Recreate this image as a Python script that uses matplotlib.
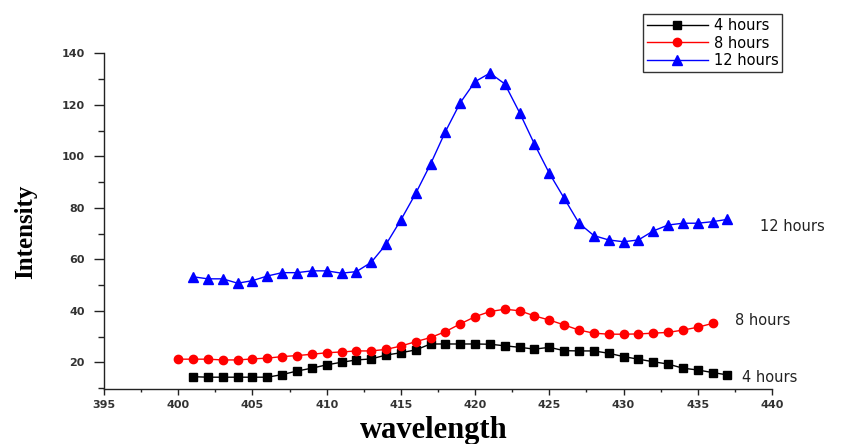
import matplotlib
matplotlib.use('Agg')
import matplotlib.pyplot as plt
from matplotlib.ticker import MultipleLocator

# wavelength (nm) for each series
wl_4h = list(range(401, 438))
wl_8h = list(range(400, 437))
wl_12h = list(range(401, 438))

int_4h = [14.4, 14.2, 14.2, 14.2, 14.2, 14.2, 15.2, 16.6, 17.7, 19.0,
          20.0, 20.9, 21.3, 22.8, 23.7, 24.8, 27.1, 27.1, 27.1, 27.1,
          27.0, 26.4, 25.8, 25.1, 25.8, 24.5, 24.4, 24.4, 23.5, 22.2,
          21.2, 20.2, 19.3, 17.7, 17.0, 16.0, 15.1]
int_8h = [21.2, 21.2, 21.2, 20.9, 20.9, 21.3, 21.6, 22.2, 22.6, 23.1,
          23.7, 24.0, 24.4, 24.4, 25.0, 26.3, 28.0, 29.6, 31.9, 34.9,
          37.7, 39.7, 40.6, 40.0, 38.0, 36.4, 34.5, 32.5, 31.3, 30.9,
          30.9, 31.0, 31.3, 31.6, 32.5, 33.6, 35.1]
int_12h = [53.2, 52.4, 52.4, 50.7, 51.7, 53.5, 54.8, 54.8, 55.5, 55.5,
           54.6, 55.2, 58.8, 65.8, 75.3, 85.6, 97.0, 109.6, 120.8, 129.0,
           132.3, 128.1, 116.9, 104.7, 93.4, 83.7, 74.0, 69.2, 67.5, 66.8,
           67.5, 71.0, 73.3, 74.0, 74.0, 74.6, 75.5]

labels = ['4 hours', '8 hours', '12 hours']
x_ticks = [395, 400, 405, 410, 415, 420, 425, 430, 435, 440]
y_ticks = [20, 40, 60, 80, 100, 120, 140]

fig = plt.figure(figsize=(8.59, 4.44), dpi=100)
ax = fig.add_axes([0.1211, 0.1232, 0.7776, 0.7568])

ax.plot(wl_4h, int_4h, '-s', color='black', lw=1, ms=5.6, label=labels[0])
ax.plot(wl_8h, int_8h, '-o', color='#ff0000', lw=1, ms=6.0, label=labels[1])
ax.plot(wl_12h, int_12h, '-^', color='#0000ff', lw=1, ms=7.3, label=labels[2])

ax.set_xlim(395, 440)
ax.set_ylim(9.5, 140)
ax.set_xticks(x_ticks)
ax.set_yticks(y_ticks)
ax.xaxis.set_minor_locator(MultipleLocator(2.5))
ax.yaxis.set_minor_locator(MultipleLocator(10))

for side in ['top', 'right']:
    ax.spines[side].set_visible(False)
for side in ['left', 'bottom']:
    ax.spines[side].set_linewidth(1.0)
    ax.spines[side].set_color('#222222')

ax.tick_params(axis='x', which='major', length=4, width=1, pad=4,
               direction='out', colors='#222222')
ax.tick_params(axis='x', which='minor', length=2, width=1, direction='out',
               colors='#222222')
ax.tick_params(axis='y', which='major', length=7, width=1, pad=7,
               direction='out', colors='#222222')
ax.tick_params(axis='y', which='minor', length=4.5, width=1, direction='out',
               colors='#222222')
for lbl in ax.get_xticklabels() + ax.get_yticklabels():
    lbl.set_fontsize(8)
    lbl.set_fontweight('bold')
    lbl.set_color('#333333')

# series labels to the right of the curves
ax.text(439.2, 72.9, labels[2], fontsize=10.5, va='center', ha='left',
        color='#222222', clip_on=False)
ax.text(437.5, 36.1, labels[1], fontsize=10.5, va='center', ha='left',
        color='#222222', clip_on=False)
ax.text(438.0, 14.0, labels[0], fontsize=10.5, va='center', ha='left',
        color='#222222', clip_on=False)

fig.text(26 / 859, 1 - 232 / 444, 'Intensity', rotation=90, ha='center',
         va='center', family='Liberation Serif', fontweight='bold',
         fontsize=18)
fig.text(434 / 859, 1 - 437.5 / 444, 'wavelength', ha='center',
         va='baseline', family='Liberation Serif', fontweight='bold',
         fontsize=22)

leg = ax.legend(loc='upper left', bbox_to_anchor=(643 / 859, 1 - 14 / 444),
                bbox_transform=fig.transFigure, fontsize=10.5, frameon=True,
                fancybox=False, handlelength=4.2, handletextpad=0.4,
                borderpad=0.25, labelspacing=0.2, borderaxespad=0)
leg.get_frame().set_edgecolor('black')
leg.get_frame().set_linewidth(1.0)

fig.savefig('out.png', dpi=100)
